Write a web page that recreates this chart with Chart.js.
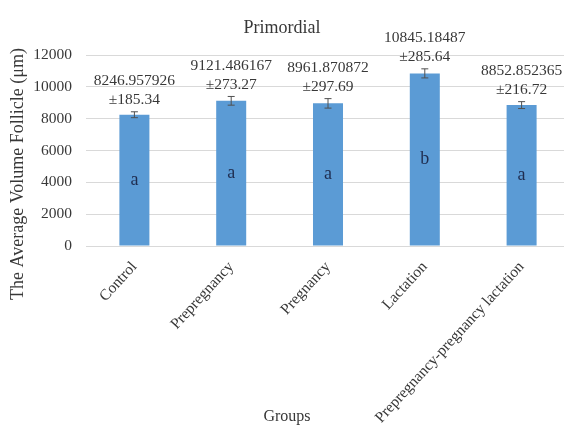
<!DOCTYPE html>
<html>
<head>
<meta charset="utf-8">
<script src="https://cdn.jsdelivr.net/npm/chart.js@4/dist/chart.umd.min.js"></script>
<style>
  html, body { margin: 0; padding: 0; background: #fff; overflow: hidden; width: 564px; height: 427px; }
  #wrap { position: relative; width: 574px; height: 427px; }
</style>
</head>
<body>
<div id="wrap"><canvas id="c" width="574" height="427"></canvas></div>
<script>
// Primordial follicle volume per group (mean ± SE) with significance letters
const groups = ['Control', 'Prepregnancy', 'Pregnancy', 'Lactation', 'Prepregnancy-pregnancy lactation'];
const meanVolume = [8246.957926, 9121.486167, 8961.870872, 10845.18487, 8852.852365];
const stdError = [185.34, 273.27, 297.69, 285.64, 216.72];
const letters = ['a', 'a', 'a', 'b', 'a'];
const yMin = 0, yMax = 12000, yStep = 2000;

const SERIF = '"Liberation Serif", "Times New Roman", serif';
const TEXT = '#383838';

const annotate = {
  id: 'annotate',
  afterDatasetsDraw(chart) {
    const { ctx } = chart;
    const y = chart.scales.y;
    const meta = chart.getDatasetMeta(0);
    meta.data.forEach((bar, i) => {
      const x = bar.x;
      const hi = y.getPixelForValue(meanVolume[i] + stdError[i]);
      const lo = y.getPixelForValue(meanVolume[i] - stdError[i]);
      ctx.save();
      // error bar
      ctx.strokeStyle = '#505050';
      ctx.lineWidth = 1;
      ctx.beginPath();
      ctx.moveTo(x, hi); ctx.lineTo(x, lo);
      ctx.moveTo(x - 3.5, hi); ctx.lineTo(x + 3.5, hi);
      ctx.moveTo(x - 3.5, lo); ctx.lineTo(x + 3.5, lo);
      ctx.stroke();
      // significance letter in the middle of the bar
      ctx.textAlign = 'center';
      ctx.textBaseline = 'middle';
      ctx.fillStyle = '#1f2d50';
      ctx.font = '18px ' + SERIF;
      ctx.fillText(letters[i], x, y.getPixelForValue(meanVolume[i] / 2));
      // mean and error text above the bar
      ctx.fillStyle = TEXT;
      ctx.font = '15.5px ' + SERIF;
      ctx.fillText('±' + stdError[i].toFixed(2), x, hi - 12);
      ctx.fillText(String(meanVolume[i]), x, hi - 31);
      ctx.restore();
    });
  },
  afterDraw(chart) {
    const { ctx } = chart;
    ctx.save();
    ctx.fillStyle = TEXT;
    ctx.textAlign = 'center';
    ctx.textBaseline = 'middle';
    // chart title
    ctx.font = '18px ' + SERIF;
    ctx.fillText('Primordial', 282, 28);
    // x axis title
    ctx.font = '16px ' + SERIF;
    ctx.fillText('Groups', 287, 417);
    // y axis title
    ctx.font = '18px ' + SERIF;
    ctx.translate(18, 174);
    ctx.rotate(-Math.PI / 2);
    ctx.fillText('The Average Volume Follicle (μm)', 0, 0);
    ctx.restore();
  }
};

new Chart(document.getElementById('c'), {
  type: 'bar',
  data: {
    labels: groups,
    datasets: [{
      data: meanVolume,
      backgroundColor: '#5b9bd5',
      borderWidth: 0,
      barPercentage: 0.31,
      categoryPercentage: 1
    }]
  },
  options: {
    responsive: false,
    devicePixelRatio: 1,
    animation: false,
    layout: { padding: { top: 55, right: 4, bottom: 0, left: 0 } },
    plugins: { legend: { display: false }, tooltip: { enabled: false }, title: { display: false } },
    scales: {
      x: {
        grid: { display: false },
        border: { display: true, color: '#d9d9d9' },
        ticks: {
          color: TEXT,
          font: { family: SERIF, size: 15.5 },
          maxRotation: 47.5,
          minRotation: 47.5,
          padding: 4,
          autoSkip: false
        },
        afterFit(scale) { scale.height = 181; }
      },
      y: {
        min: yMin,
        max: yMax,
        grid: { color: '#d9d9d9', drawTicks: false },
        border: { display: false },
        ticks: {
          stepSize: yStep,
          color: TEXT,
          padding: 14,
          font: { family: SERIF, size: 15.5 },
          callback: (v) => String(v)
        },
        afterFit(scale) { scale.width = 86; }
      }
    }
  },
  plugins: [annotate]
});
</script>
</body>
</html>
